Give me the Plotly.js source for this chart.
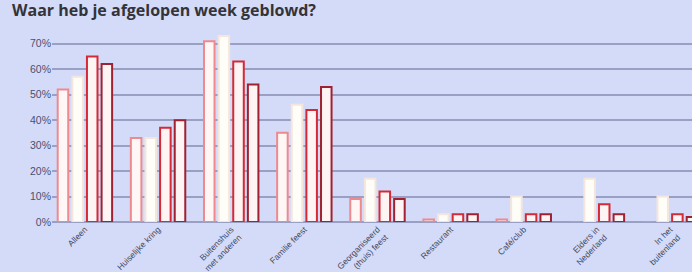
<!DOCTYPE html>
<html>
<head>
<meta charset="utf-8">
<script src="https://cdn.plot.ly/plotly-3.0.1.min.js"></script>
<style>
html,body{margin:0;padding:0;overflow:hidden;background:#d4dbf8;}
#chart{width:692px;height:272px;}
</style>
</head>
<body>
<div id="chart"></div>
<script>
const chartTitle = "Waar heb je afgelopen week geblowd?";
const categories = [
  "Alleen",
  "Huiselijke kring",
  "Buitenshuis<br>met anderen",
  "Familie feest",
  "Georganiseerd<br>(thuis) feest",
  "Restaurant",
  "Café/club",
  "Elders in<br>Nederland",
  "In het<br>buitenland"
];
const serie1 = [52, 33, 71, 35, 9, 1, 1, 0, 0];
const serie2 = [57, 33, 73, 46, 17, 3, 10, 17, 10];
const serie3 = [65, 37, 63, 44, 12, 3, 3, 7, 3];
const serie4 = [62, 40, 54, 53, 9, 3, 3, 3, 2];
const seriesNames = ["Serie 1", "Serie 2", "Serie 3", "Serie 4"];
const yTickVals = [0, 10, 20, 30, 40, 50, 60, 70];
const yTickText = ["0%", "10%", "20%", "30%", "40%", "50%", "60%", "70%"];

const outlines = ["#ee8a8e", "#f4e6dc", "#d42a36", "#9e2232"];
const fills = ["#fff6f6", "#fffdf8", "#fff4f4", "#fff4f4"];
const allSeries = [serie1, serie2, serie3, serie4];

const traces = allSeries.map((vals, i) => ({
  type: "bar",
  name: seriesNames[i],
  x: categories,
  y: vals,
  marker: {color: fills[i], line: {color: outlines[i], width: 2}},
  hoverinfo: "skip"
}));

const layout = {
  width: 692,
  height: 272,
  paper_bgcolor: "#d4dbf8",
  plot_bgcolor: "#d4dbf8",
  margin: {l: 52, r: 0, t: 31, b: 50},
  showlegend: false,
  barmode: "group",
  bargap: 0.2,
  bargroupgap: 0.28,
  annotations: [{
    text: "<b>" + chartTitle + "</b>",
    xref: "paper", yref: "paper",
    x: -0.066, y: 1.108,
    xanchor: "left", yanchor: "middle",
    showarrow: false,
    font: {family: "Open Sans, Arial, sans-serif", size: 16, color: "#333338"}
  }],
  xaxis: {
    type: "category",
    range: [-0.45, 8.3],
    tickangle: -45,
    tickfont: {family: "Liberation Sans, Arial, sans-serif", size: 8.5, color: "#444a60"},
    showgrid: false,
    zeroline: false,
    showline: false,
    ticks: "",
    fixedrange: true
  },
  yaxis: {
    range: [0, 75],
    tickvals: yTickVals,
    ticktext: yTickText,
    tickfont: {family: "Liberation Sans, Arial, sans-serif", size: 10.5, color: "#4a5070"},
    showgrid: true,
    gridcolor: "#9aa0c4",
    gridwidth: 2,
    zeroline: true,
    zerolinecolor: "#9aa0c4",
    zerolinewidth: 2,
    showline: false,
    ticks: "",
    ticklen: 0,
    fixedrange: true
  }
};

Plotly.newPlot("chart", traces, layout, {displayModeBar: false, staticPlot: true});
</script>
</body>
</html>
